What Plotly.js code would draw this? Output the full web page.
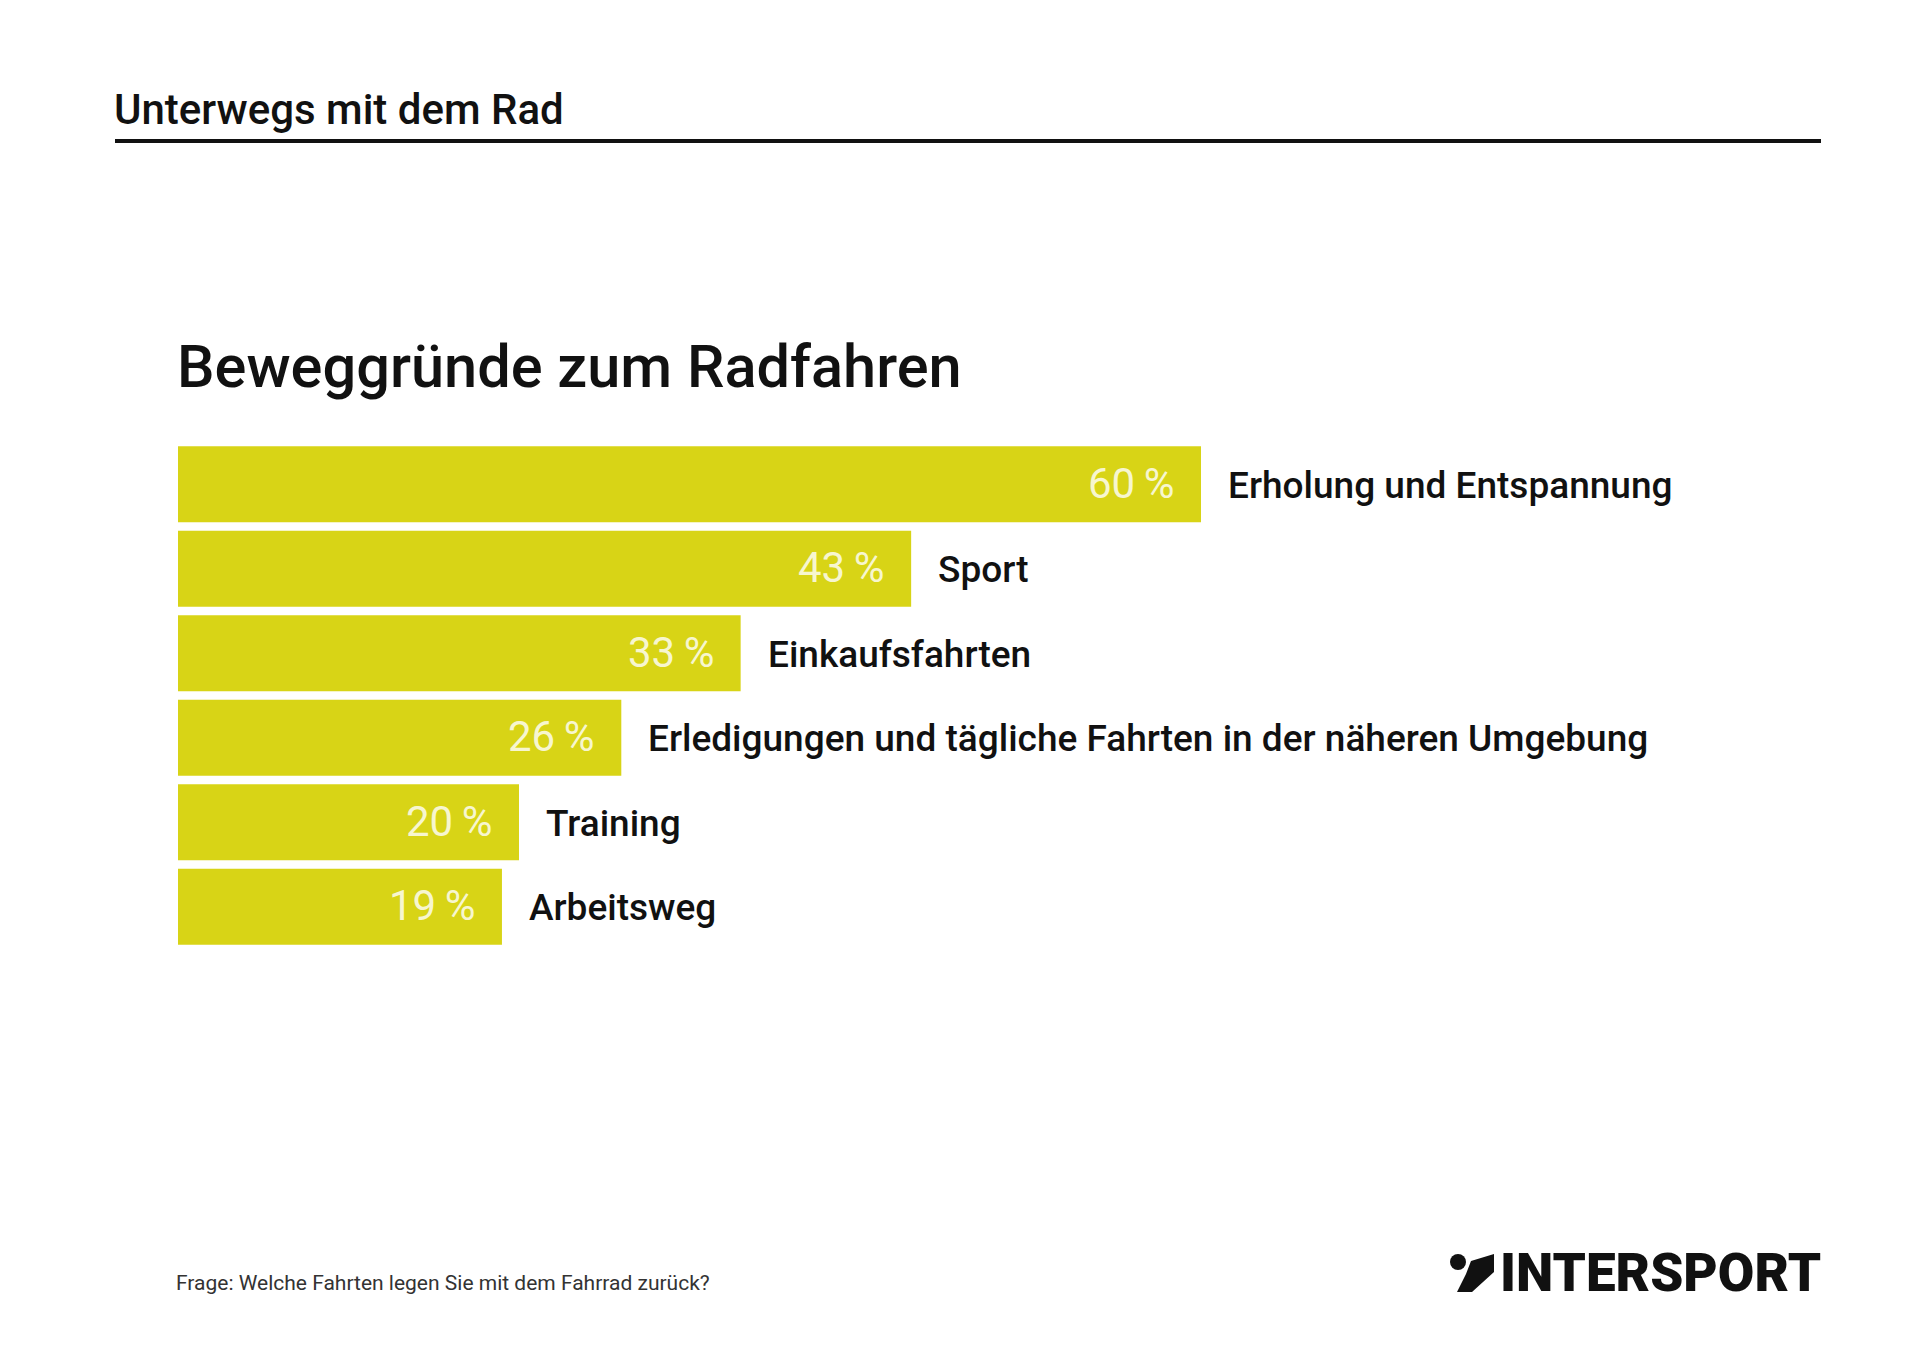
<!DOCTYPE html>
<html>
<head>
<meta charset="utf-8">
<script src="https://cdn.plot.ly/plotly-3.0.1.min.js"></script>
<style>
  html, body { margin: 0; padding: 0; background: #ffffff; }
  #chart { width: 1920px; height: 1357px; }
</style>
</head>
<body>
<div id="chart"></div>
<script>
// ---- data ----
const categories = [
  "Erholung und Entspannung",
  "Sport",
  "Einkaufsfahrten",
  "Erledigungen und tägliche Fahrten in der näheren Umgebung",
  "Training",
  "Arbeitsweg"
];
const values = [60, 43, 33, 26, 20, 19];
const valueLabels = values.map(v => v + "\u2009%");

const pageTitle = "Unterwegs mit dem Rad";
const chartTitle = "Beweggründe zum Radfahren";
const footnote = "Frage: Welche Fahrten legen Sie mit dem Fahrrad zurück?";
const brand = "INTERSPORT";

// ---- layout helpers (pixel -> paper) ----
const W = 1920, H = 1357;
const px = x => x / W;
const py = y => 1 - y / H;

const FONT = "Roboto, 'Open Sans', sans-serif";
const BAR_COLOR = "#d8d416";

const trace = {
  type: "bar",
  orientation: "h",
  x: values,
  y: categories,
  marker: { color: BAR_COLOR, line: { width: 0 } },
  hoverinfo: "skip",
  showlegend: false
};

const annotations = [];
categories.forEach((c, i) => {
  annotations.push({
    x: values[i], y: c, xref: "x", yref: "y",
    text: valueLabels[i], showarrow: false,
    xanchor: "right", yanchor: "middle", xshift: -24, yshift: 1,
    font: { family: FONT, size: 42, color: "#f7f6cf" }
  });
  annotations.push({
    x: values[i], y: c, xref: "x", yref: "y",
    text: c, showarrow: false,
    xanchor: "left", yanchor: "middle", xshift: 25, yshift: -1,
    font: { family: FONT, size: 37, color: "#111111", weight: 500 }
  });
});

annotations.push({
  x: px(112), y: py(110), xref: "paper", yref: "paper",
  text: pageTitle, showarrow: false, xanchor: "left", yanchor: "middle",
  font: { family: FONT, size: 42, color: "#111111", weight: 500 }
});
annotations.push({
  x: px(175), y: py(367), xref: "paper", yref: "paper",
  text: chartTitle, showarrow: false, xanchor: "left", yanchor: "middle",
  font: { family: FONT, size: 59.5, color: "#111111", weight: 500 }
});
annotations.push({
  x: px(174), y: py(1283), xref: "paper", yref: "paper",
  text: footnote, showarrow: false, xanchor: "left", yanchor: "middle",
  font: { family: FONT, size: 21, color: "#333333" }
});
annotations.push({
  x: px(1823), y: py(1273), xref: "paper", yref: "paper",
  text: brand, showarrow: false, xanchor: "right", yanchor: "middle",
  font: { family: FONT, size: 53, color: "#111111", weight: 900 }
});

const shapes = [
  { type: "line", xref: "paper", yref: "paper",
    x0: px(115), x1: px(1821), y0: py(141), y1: py(141),
    line: { color: "#111111", width: 4 } },
  // logo mark: dot + swoosh
  { type: "circle", xref: "paper", yref: "paper",
    x0: px(1450), x1: px(1466), y0: py(1270), y1: py(1254),
    fillcolor: "#111111", line: { width: 0 } },
  { type: "path", xref: "paper", yref: "paper",
    path: "M " + px(1457) + "," + py(1292) +
          " L " + px(1472) + "," + py(1292) +
          " L " + px(1494) + "," + py(1272) +
          " L " + px(1494) + "," + py(1254) +
          " L " + px(1471) + "," + py(1261) +
          " L " + px(1466) + "," + py(1274) + " Z",
    fillcolor: "#111111", line: { width: 0 } }
];

const layout = {
  width: W, height: H,
  margin: { l: 0, r: 0, t: 0, b: 0, pad: 0 },
  paper_bgcolor: "#ffffff",
  plot_bgcolor: "rgba(0,0,0,0)",
  bargap: 0.1,
  xaxis: {
    domain: [px(178), px(178 + 1705)],
    range: [0, 100],
    visible: false, fixedrange: true
  },
  yaxis: {
    domain: [py(949), py(442)],
    type: "category",
    categoryorder: "array",
    categoryarray: categories,
    range: [5.5, -0.5],
    visible: false, fixedrange: true
  },
  annotations: annotations,
  shapes: shapes,
  showlegend: false
};

Plotly.newPlot("chart", [trace], layout, { staticPlot: true, displayModeBar: false });
</script>
</body>
</html>
